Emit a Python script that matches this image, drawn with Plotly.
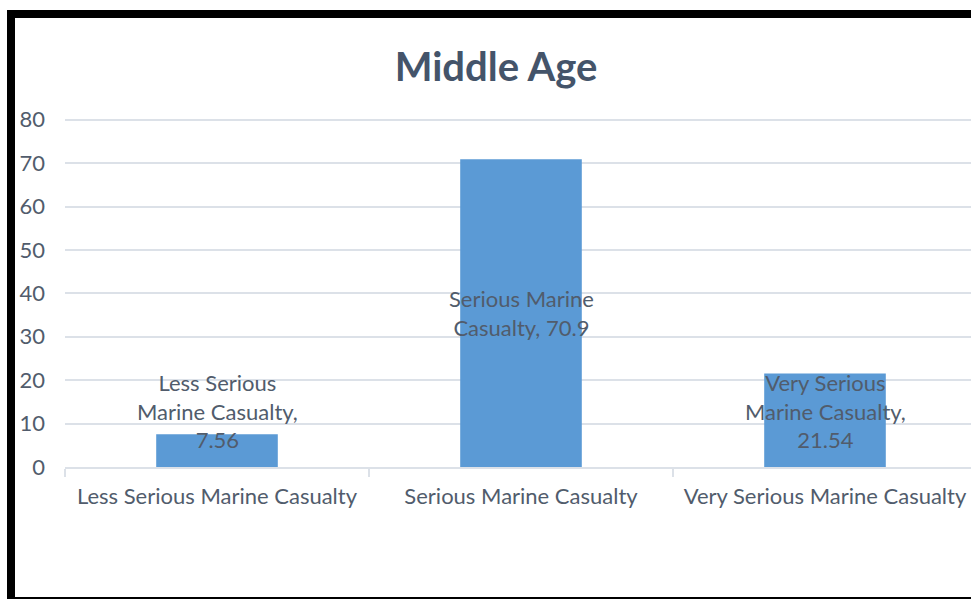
import plotly.graph_objects as go

# Chart data
categories = ["Less Serious Marine Casualty", "Serious Marine Casualty", "Very Serious Marine Casualty"]
values = [7.56, 70.9, 21.54]
label_lines = [["Less Serious", "Marine Casualty,"], ["Serious Marine", "Casualty,"], ["Very Serious", "Marine Casualty,"]]
label_joiner = ["<br>", " ", "<br>"]
y_ticks = [0, 10, 20, 30, 40, 50, 60, 70, 80]

W, H = 971, 599
Y_MAX = 80
Y_TOP = 80.4          # a little headroom so the 80 gridline is drawn
PX_PER_UNIT = 347 / 80
M_L, M_R, M_B = 65, 0, 132
M_T = round(H - M_B - Y_TOP * PX_PER_UNIT)
PLOT_W = W - M_L - M_R
PLOT_H = H - M_B - M_T

FONT = "Lato, Calibri, 'Open Sans', sans-serif"
TEXT_COL = "#515C6C"
GRID_COL = "#DCE1E8"
BAR_COL = "#5B9AD5"


def px_x(px):
    return (px - M_L) / PLOT_W


def px_y(py):
    return (H - M_B - py) / PLOT_H


fig = go.Figure()
fig.add_trace(go.Bar(
    x=categories,
    y=values,
    width=0.4,
    marker=dict(color=BAR_COL, line=dict(width=0)),
    hoverinfo="skip",
))

# Data labels: centred on the bar, kept clear of the category axis
min_center = 12.8
for cat, v, lines, j in zip(categories, values, label_lines, label_joiner):
    if j == " ":
        text = lines[0] + "<br>" + lines[1] + " " + f"{v:g}"
    else:
        text = "<br>".join(lines) + "<br>" + f"{v:g}"
    fig.add_annotation(
        x=cat, y=max(v / 2, min_center), text=text, showarrow=False,
        xanchor="center", yanchor="middle",
        font=dict(family=FONT, size=22, color=TEXT_COL),
        align="center",
    )

# Frame around the chart area
frame = [
    (7, 10, 1000, 18),    # top
    (7, 10, 15, 599),     # left
    (7, 597, 1000, 599),  # bottom
]
for x0, y0, x1, y1 in frame:
    fig.add_shape(type="rect", xref="paper", yref="paper",
                  x0=px_x(x0), x1=px_x(x1), y0=px_y(y1), y1=px_y(y0),
                  fillcolor="black", line=dict(width=0), layer="above")

fig.update_layout(
    width=W, height=H,
    margin=dict(l=M_L, r=M_R, t=M_T, b=M_B),
    paper_bgcolor="white", plot_bgcolor="white",
    showlegend=False,
    title=dict(text="<b>Middle Age</b>", x=496 / W, xref="container", xanchor="center",
               y=1 - 67 / H, yref="container", yanchor="middle",
               font=dict(family=FONT, size=40, color="#44546A")),
    xaxis=dict(
        type="category", range=[-0.5, -0.5 + PLOT_W / 304],
        showline=True, linecolor=GRID_COL, linewidth=2,
        ticks="outside", tickson="boundaries", ticklen=8, tickcolor=GRID_COL, tickwidth=2,
        showgrid=False,
        tickfont=dict(family=FONT, size=22, color=TEXT_COL),
        ticklabelstandoff=9,
    ),
    yaxis=dict(
        range=[0, Y_TOP], tickvals=y_ticks,
        showgrid=True, gridcolor=GRID_COL, gridwidth=2,
        zeroline=False, showline=False, ticks="",
        tickfont=dict(family=FONT, size=22, color=TEXT_COL),
        ticklabelstandoff=19,
    ),
)

fig.write_html("out.html")
